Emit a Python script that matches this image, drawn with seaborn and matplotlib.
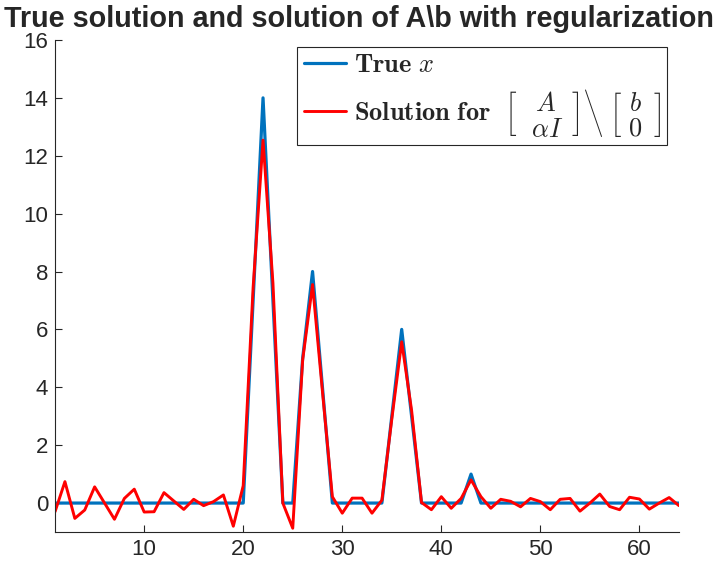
import numpy as np
import pandas as pd
import matplotlib
matplotlib.use("Agg")
import matplotlib.pyplot as plt
import seaborn as sns

# data
idx = np.arange(1, 65)
true_x = np.zeros(64)
true_x[[20, 21, 22]] = [7, 14, 7]
true_x[[25, 26, 27]] = [5, 8, 4]
true_x[[34, 35, 36]] = [3, 6, 3]
true_x[42] = 1

reg_sol = [-0.30, 0.74, -0.53, -0.24, 0.56, 0.00, -0.56, 0.16, 0.48, -0.31,
           -0.30, 0.36, 0.07, -0.22, 0.13, -0.09, 0.05, 0.28, -0.80, 0.60,
           7.45, 12.54, 7.60, 0.00, -0.87, 4.94, 7.55, 3.85, 0.22, -0.35,
           0.17, 0.17, -0.35, 0.10, 2.90, 5.57, 3.20, 0.02, -0.23, 0.22,
           -0.18, 0.16, 0.80, 0.22, -0.18, 0.13, 0.06, -0.13, 0.16, 0.05,
           -0.23, 0.13, 0.16, -0.28, 0.00, 0.31, -0.12, -0.23, 0.20, 0.14,
           -0.21, 0.00, 0.19, -0.09]

sns.set_style("ticks")
plt.rcParams["font.family"] = ["Liberation Sans", "DejaVu Sans"]
plt.rcParams["mathtext.fontset"] = "cm"

fig = plt.figure(figsize=(7.25, 5.71), dpi=100)
ax = fig.add_axes([0.0759, 0.0683, 0.8607, 0.8617])

gray = "#262626"
sns.lineplot(x=idx, y=true_x, color="#0072BD", lw=2.3, ax=ax,
             label=r"$\mathbf{True}\ x$")
sns.lineplot(x=idx, y=reg_sol, color="#FF0000", lw=2.1, ax=ax,
             label=r"$\mathbf{Solution\ for}\ \ \left[\ \ \genfrac{}{}{0}{0}{A}{\alpha I}\ \right]"
                   r"\left\backslash\ \left[\ \genfrac{}{}{0}{0}{b}{0}\ \right]\right.$")

ax.set_xlim(1, 64)
ax.set_ylim(-1, 16)
ax.set_xticks([10, 20, 30, 40, 50, 60])
ax.set_yticks(np.arange(0, 17, 2))
ax.tick_params(direction="in", length=5, width=0.8, colors=gray,
               labelsize=16, pad=5)
for s in ["top", "right"]:
    ax.spines[s].set_visible(False)
for s in ["left", "bottom"]:
    ax.spines[s].set_color(gray)
    ax.spines[s].set_linewidth(0.8)

fig.text(359 / 725, 1 - 27 / 571, "True solution and solution of A\\b with regularization",
         fontsize=20.7, fontweight="bold", ha="center", va="baseline")

leg = ax.legend(loc="upper right", bbox_to_anchor=(0.981, 0.986),
                fontsize=19, frameon=True, fancybox=False, framealpha=1,
                edgecolor=gray, handlelength=1.6, borderpad=0.25,
                labelspacing=0.35, handletextpad=0.3, borderaxespad=0)
leg.get_frame().set_linewidth(0.8)

fig.savefig("out.png", dpi=100)
